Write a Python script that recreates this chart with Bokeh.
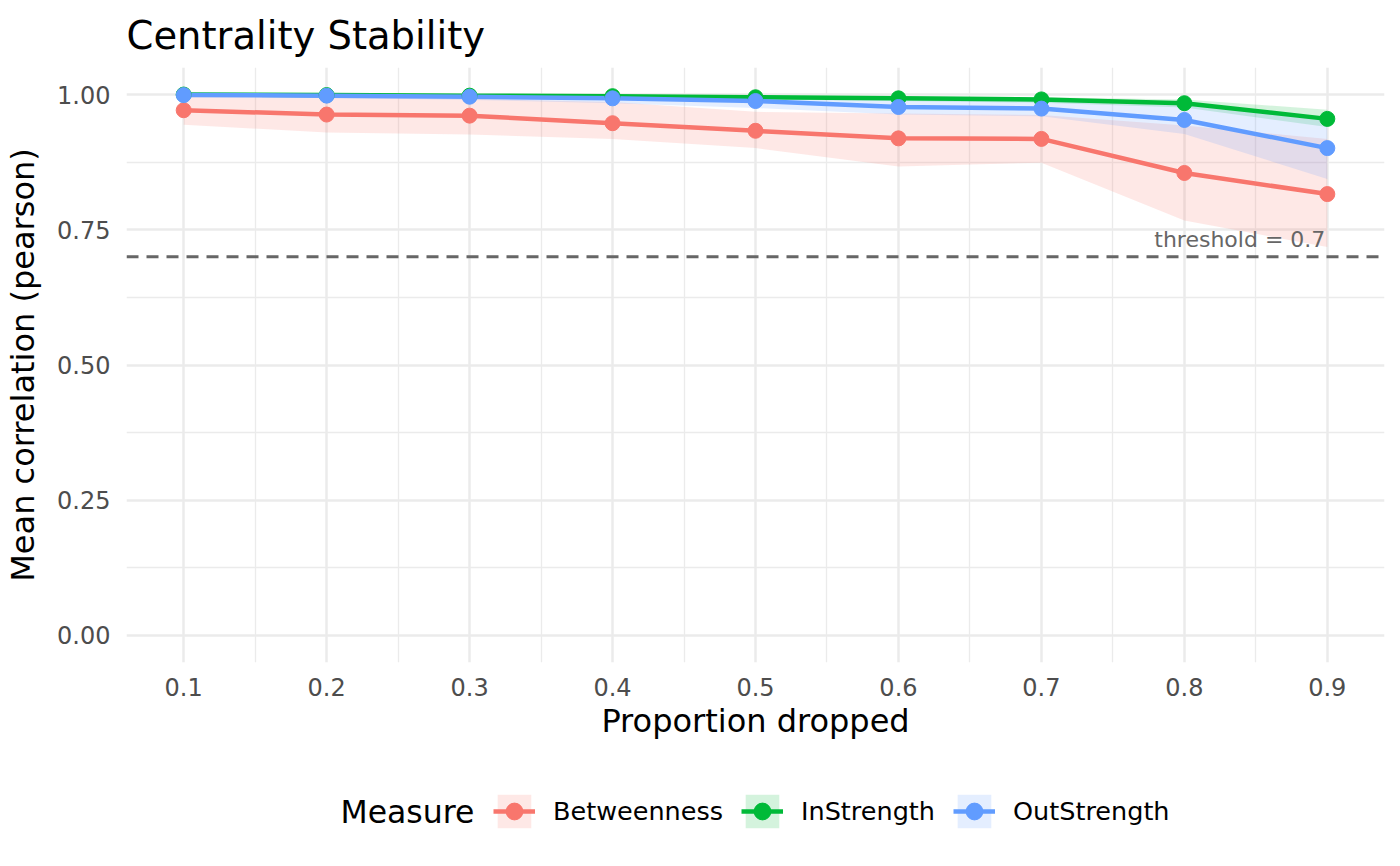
from bokeh.plotting import figure
from bokeh.models import (Range1d, FixedTicker, NumeralTickFormatter, Legend, LegendItem,
                          Label, ColumnDataSource)
from bokeh.layouts import column
from bokeh.core.properties import value
from bokeh.embed import file_html
from bokeh.resources import INLINE

# ---- data ----
prop_dropped = [0.1, 0.2, 0.3, 0.4, 0.5, 0.6, 0.7, 0.8, 0.9]

betweenness_mean = [0.971, 0.963, 0.961, 0.947, 0.933, 0.919, 0.918, 0.855, 0.816]
betweenness_lo   = [0.944, 0.930, 0.926, 0.918, 0.901, 0.867, 0.874, 0.767, 0.718]
betweenness_hi   = [0.997, 0.995, 0.992, 0.986, 0.968, 0.965, 0.962, 0.943, 0.918]

instrength_mean = [1.000, 0.999, 0.998, 0.997, 0.995, 0.993, 0.991, 0.984, 0.955]
instrength_lo   = [0.999, 0.998, 0.996, 0.994, 0.991, 0.988, 0.985, 0.976, 0.940]
instrength_hi   = [1.000, 1.000, 0.999, 0.999, 0.998, 0.997, 0.995, 0.991, 0.972]

outstrength_mean = [0.999, 0.998, 0.996, 0.993, 0.988, 0.977, 0.974, 0.953, 0.901]
outstrength_lo   = [0.997, 0.994, 0.990, 0.984, 0.975, 0.963, 0.960, 0.927, 0.844]
outstrength_hi   = [1.000, 1.000, 0.999, 0.998, 0.996, 0.991, 0.989, 0.985, 0.958]

measures = ["Betweenness", "InStrength", "OutStrength"]
colors = ["#F8766D", "#00BA38", "#619CFF"]
legend_title = "Measure"

threshold = 0.7
threshold_label = "threshold = 0.7"

x_ticks = [0.1, 0.2, 0.3, 0.4, 0.5, 0.6, 0.7, 0.8, 0.9]
x_minor = [0.15, 0.25, 0.35, 0.45, 0.55, 0.65, 0.75, 0.85]
y_ticks = [0.0, 0.25, 0.5, 0.75, 1.0]
y_minor = [0.125, 0.375, 0.625, 0.875]

FONT = "DejaVu Sans"
W = 1392
MAIN_H = 770
LEG_H = 88
FRAME_L = 126
FRAME_R = 1384

p = figure(width=W, height=MAIN_H, output_backend="svg", toolbar_location=None,
           x_range=Range1d(0.06, 0.94), y_range=Range1d(-0.05, 1.05),
           min_border_left=FRAME_L, min_border_right=W - FRAME_R,
           min_border_top=67, min_border_bottom=108,
           title="Centrality Stability")
p.outline_line_color = None
p.background_fill_color = "white"

p.title.text_font = FONT
p.title.text_font_size = "38.5px"
p.title.text_font_style = "normal"
p.title.text_color = "black"
p.title.align = "left"
p.title.standoff = 19

# grids
for g in (p.xgrid, p.ygrid):
    g.grid_line_color = "#ebebeb"
    g.grid_line_width = 2.5
    g.minor_grid_line_color = "#ebebeb"
    g.minor_grid_line_width = 1.3

p.xaxis.ticker = FixedTicker(ticks=x_ticks, minor_ticks=x_minor)
p.yaxis.ticker = FixedTicker(ticks=y_ticks, minor_ticks=y_minor)
p.xaxis.formatter = NumeralTickFormatter(format="0.0")
p.yaxis.formatter = NumeralTickFormatter(format="0.00")

for ax in (p.xaxis, p.yaxis):
    ax.axis_line_color = None
    ax.major_tick_line_color = None
    ax.minor_tick_line_color = None
    ax.major_tick_in = 0
    ax.major_tick_out = 0
    ax.minor_tick_in = 0
    ax.minor_tick_out = 0
    ax.major_label_text_font = FONT
    ax.major_label_text_font_size = "24px"
    ax.major_label_text_color = "#4d4d4d"
    ax.axis_label_text_font = FONT
    ax.axis_label_text_font_size = "32px"
    ax.axis_label_text_font_style = "normal"
    ax.axis_label_text_color = "black"

p.xaxis.axis_label = "Proportion dropped"
p.yaxis.axis_label = "Mean correlation (pearson)"
p.xaxis.major_label_standoff = 15
p.xaxis.axis_label_standoff = 3
p.yaxis.major_label_standoff = 16
p.yaxis.axis_label_standoff = 12

series = [
    (betweenness_mean, betweenness_lo, betweenness_hi),
    (instrength_mean, instrength_lo, instrength_hi),
    (outstrength_mean, outstrength_lo, outstrength_hi),
]
sources = [ColumnDataSource(dict(x=prop_dropped, y=m, lo=lo, hi=hi)) for (m, lo, hi) in series]

for src, c in zip(sources, colors):
    p.varea(x="x", y1="lo", y2="hi", source=src, fill_color=c, fill_alpha=0.17)
for src, c in zip(sources, colors):
    p.line(x="x", y="y", source=src, line_color=c, line_width=4.5)
for src, c in zip(sources, colors):
    p.scatter(x="x", y="y", source=src, size=15, fill_color=c, line_color=c)

# threshold
p.line(x=[0.06, 0.94], y=[threshold, threshold], line_color="#666666",
       line_width=3, line_dash="12 8")
p.text(x=[prop_dropped[-1]], y=[threshold], text=[threshold_label],
       text_font=value(FONT), text_font_size="22px", text_color="#666666",
       text_align="right", text_baseline="bottom", x_offset=-2, y_offset=-5)

# ---- legend strip (separate small figure below, frame aligned with main plot) ----
lg = figure(width=W, height=LEG_H, output_backend="svg", toolbar_location=None,
            x_range=Range1d(FRAME_L, FRAME_R), y_range=Range1d(0, LEG_H),
            x_axis_type=None, y_axis_type=None,
            min_border_left=FRAME_L, min_border_right=W - FRAME_R,
            min_border_top=0, min_border_bottom=0)
lg.outline_line_color = None
lg.xgrid.visible = False
lg.ygrid.visible = False

# proxy renderers for legend keys (same data; it falls outside this strip's ranges, so only keys show)
items = []
for name, src, c in zip(measures, sources, colors):
    a = lg.varea(x="x", y1="lo", y2="hi", source=src, fill_color=c, fill_alpha=0.17)
    l = lg.line(x="x", y="y", source=src, line_color=c, line_width=4.5)
    s = lg.scatter(x="x", y="y", source=src, size=15, fill_color=c, line_color=c)
    items.append(LegendItem(label=name, renderers=[a, l, s]))

legend = Legend(items=items, orientation="horizontal", location=(493 - FRAME_L, 26),
                glyph_width=42, glyph_height=42, label_standoff=18, spacing=18,
                padding=0, margin=0, border_line_color=None, background_fill_alpha=0,
                label_text_font=FONT, label_text_font_size="25.5px", label_text_color="black",
                label_height=42)
lg.add_layout(legend, "center")

lg.add_layout(Label(x=340, y=47, text=legend_title,
                    text_font=FONT, text_font_size="31.5px", text_color="black",
                    text_baseline="middle", text_align="left"))

open("out.html", "w").write(file_html(column(p, lg), INLINE))
